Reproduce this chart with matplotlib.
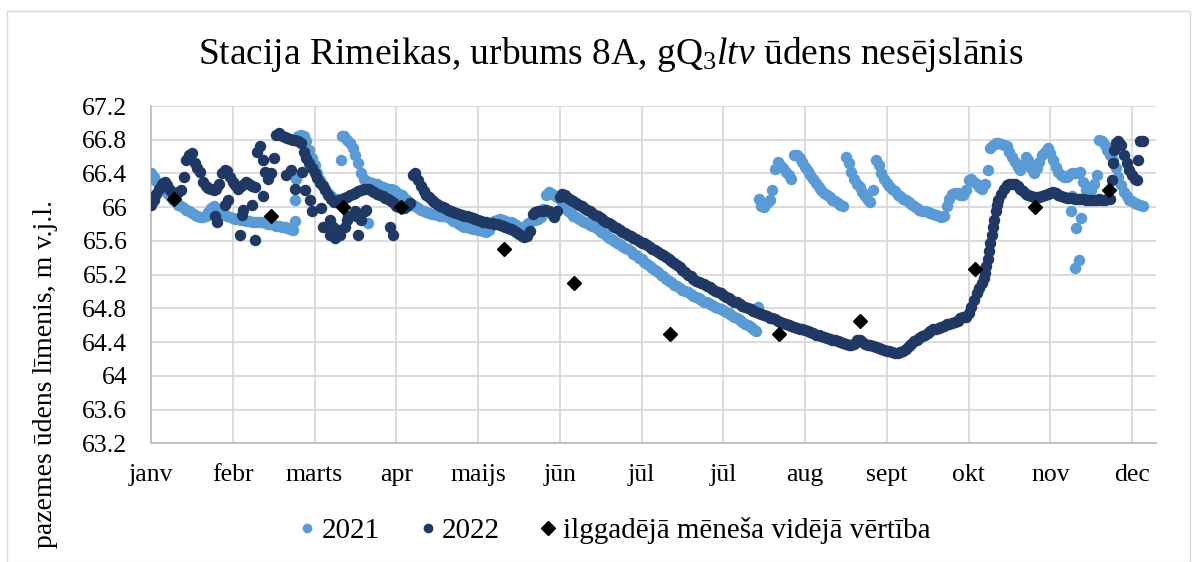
import numpy as np
import matplotlib
matplotlib.use("Agg")
import matplotlib.pyplot as plt
from matplotlib.lines import Line2D
from matplotlib.patches import Rectangle

plt.rcParams['font.family'] = ['Liberation Serif', 'DejaVu Serif']
plt.rcParams['mathtext.fontset'] = 'custom'
plt.rcParams['mathtext.rm'] = 'Liberation Serif'
plt.rcParams['mathtext.it'] = 'Liberation Serif:italic'

# ---- data: day index from the start of the year, groundwater level (m a.s.l.) ----
month_ticks = [0, 30, 60, 90, 120, 150, 180, 210, 240, 270, 300, 330, 360]
month_labels = ["janv", "febr", "marts", "apr", "maijs", "jūn", "jūl", "jūl",
                "aug", "sept", "okt", "nov", "dec"]

days_2021 = list(range(0, 365))
level_2021 = [
    66.40, 66.36, 66.31, 66.27, 66.23, 66.20, 66.17, 66.13, 66.09, 66.06,
    66.03, 66.01, 65.99, 65.97, 65.95, 65.93, 65.91, 65.89, 65.88, 65.88,
    65.89, 65.94, 65.99, 66.02, 65.98, 65.95, 65.93, 65.91, 65.89, 65.88,
    65.87, 65.86, 65.86, 65.85, 65.85, 65.84, 65.84, 65.83, 65.83, 65.83,
    65.82, 65.82, 65.81, 65.80, 65.80, 65.79, 65.78, 65.78, 65.77, 65.76,
    65.75, 65.74, 65.73, 65.84, 66.84, 66.86, 66.84, 66.78, 66.68, 66.58,
    66.50, 66.40, 66.32, 66.26, 66.22, 66.17, 66.13, 66.10, 66.08, 66.10,
    66.84, 66.84, 66.80, 66.76, 66.70, 66.62, 66.52, 66.40, 66.34, 66.31,
    66.30, 66.29, 66.28, 66.27, 66.25, 66.24, 66.23, 66.22, 66.21, 66.20,
    66.18, 66.16, 66.14, 66.11, 66.08, 66.05, 66.03, 66.01, 65.99, 65.97,
    65.95, 65.94, 65.93, 65.92, 65.92, 65.91, 65.90, 65.90, 65.89, 65.88,
    65.86, 65.84, 65.82, 65.80, 65.78, 65.77, 65.76, 65.75, 65.74, 65.74,
    65.73, 65.73, 65.72, 65.71, 65.73, 65.79, 65.84, 65.85, 65.86, 65.85,
    65.84, 65.83, 65.83, 65.81, 65.79, 65.77, 65.75, 65.77, 65.80, 65.83,
    65.85, 65.85, 65.86, 65.88, 65.98, 66.14, 66.18, 66.16, 66.14, 66.12,
    66.10, 66.06, 66.01, 65.96, 65.93, 65.90, 65.88, 65.86, 65.84, 65.83,
    65.81, 65.79, 65.78, 65.76, 65.74, 65.71, 65.69, 65.67, 65.64, 65.62,
    65.60, 65.58, 65.56, 65.54, 65.52, 65.50, 65.48, 65.45, 65.43, 65.40,
    65.38, 65.35, 65.33, 65.30, 65.28, 65.25, 65.23, 65.20, 65.18, 65.15,
    65.13, 65.11, 65.08, 65.06, 65.04, 65.02, 65.01, 64.99, 64.97, 64.95,
    64.93, 64.92, 64.90, 64.88, 64.87, 64.85, 64.84, 64.82, 64.81, 64.79,
    64.78, 64.76, 64.74, 64.72, 64.70, 64.68, 64.66, 64.64, 64.62, 64.60,
    64.58, 64.56, 64.53,
    66.10, 66.02, 66.00, 66.05, 66.08, 66.20, 66.45,
    66.54, 66.50, 66.46, 66.42, 66.38, 66.34, 66.62, 66.62, 66.58, 66.54,
    66.48, 66.43, 66.38, 66.33, 66.29, 66.24, 66.20, 66.17, 66.14, 66.12,
    66.09, 66.07, 66.05, 66.03, 66.02, 66.60, 66.52, 66.42, 66.34, 66.28,
    66.24, 66.18, 66.13, 66.08, 66.06, 66.20, 66.56, 66.50, 66.40, 66.34,
    66.29, 66.25, 66.22, 66.19, 66.15, 66.13, 66.10, 66.08, 66.06, 66.04,
    66.01, 65.99, 65.97, 65.96, 65.95, 65.94, 65.93, 65.92, 65.91, 65.89,
    65.88, 65.90, 66.01, 66.10, 66.16, 66.17, 66.17, 66.15, 66.15, 66.20,
    66.32, 66.34, 66.30, 66.28, 66.24, 66.22, 66.28, 66.44, 66.70, 66.74,
    66.76, 66.76, 66.75, 66.74, 66.72, 66.66, 66.60, 66.54, 66.48, 66.44,
    66.50, 66.60, 66.56, 66.46, 66.40, 66.46, 66.54, 66.62, 66.66, 66.70,
    66.64, 66.56, 66.48, 66.42, 66.38, 66.36, 66.36, 66.38, 66.40, 66.40,
    66.41, 66.42, 66.30, 66.20, 66.15, 66.20, 66.28, 66.38, 66.80, 66.78,
    66.74, 66.68, 66.62, 66.56, 66.46, 66.36, 66.26, 66.18, 66.13, 66.09,
    66.07, 66.05, 66.04, 66.03, 66.02,
]
extra_days_2021 = [53.3, 52.7, 69.8, 79.6, 222.7, 337.5, 339.3, 341.1, 340.5, 338.9, 338.0]
extra_level_2021 = [66.34, 66.08, 66.56, 65.81, 64.82, 65.96, 65.75, 65.87, 65.37, 65.28, 66.13]

days_2022 = list(range(0, 363))
level_2022 = [
    66.03, 66.08, 66.16, 66.22, 66.27, 66.30, 66.26, 66.20, 66.14, 66.16,
    66.18, 66.20, 66.36, 66.56, 66.62, 66.64, 66.52, 66.46, 66.42, 66.30,
    66.25, 66.23, 66.21, 66.20, 66.22, 66.28, 66.40, 66.44, 66.43, 66.36,
    66.30, 66.26, 66.22, 66.25, 66.28, 66.30, 66.28, 66.25, 66.24, 66.66,
    66.72, 66.56, 66.42, 66.34, 66.40, 66.58, 66.86, 66.88, 66.84, 66.83,
    66.82, 66.81, 66.80, 66.80, 66.79, 66.76, 66.66, 66.58, 66.52, 66.46,
    66.41, 66.35, 66.29, 66.25, 66.20, 66.14, 66.10, 66.06, 66.07, 66.08,
    66.09, 66.11, 66.12, 66.14, 66.16, 66.17, 66.19, 66.20, 66.21, 66.22,
    66.21, 66.19, 66.18, 66.16, 66.15, 66.13, 66.11, 66.10, 66.07, 66.05,
    66.02, 66.00, 65.99, 65.99, 66.02, 66.05, 66.38, 66.40, 66.32, 66.25,
    66.19, 66.15, 66.12, 66.09, 66.06, 66.04, 66.02, 66.00, 65.99, 65.97,
    65.95, 65.94, 65.93, 65.92, 65.91, 65.90, 65.89, 65.88, 65.87, 65.86,
    65.85, 65.84, 65.83, 65.82, 65.81, 65.81, 65.80, 65.80, 65.79, 65.78,
    65.76, 65.75, 65.74, 65.73, 65.70, 65.68, 65.66, 65.65, 65.66, 65.72,
    65.92, 65.94, 65.95, 65.96, 65.96, 65.97, 65.95, 65.92, 65.88, 65.96,
    66.12, 66.16, 66.14, 66.11, 66.09, 66.07, 66.05, 66.03, 66.01, 65.99,
    65.97, 65.95, 65.93, 65.91, 65.89, 65.87, 65.85, 65.83, 65.81, 65.79,
    65.77, 65.75, 65.73, 65.71, 65.69, 65.67, 65.66, 65.64, 65.62, 65.60,
    65.58, 65.57, 65.55, 65.53, 65.51, 65.49, 65.47, 65.45, 65.43, 65.41,
    65.39, 65.36, 65.34, 65.32, 65.29, 65.26, 65.23, 65.20, 65.18, 65.15,
    65.13, 65.11, 65.10, 65.09, 65.07, 65.05, 65.03, 65.01, 65.00, 64.98,
    64.96, 64.94, 64.92, 64.90, 64.88, 64.87, 64.85, 64.83, 64.82, 64.80,
    64.79, 64.77, 64.76, 64.75, 64.73, 64.72, 64.71, 64.69, 64.68, 64.67,
    64.65, 64.64, 64.63, 64.61, 64.60, 64.59, 64.58, 64.57, 64.56, 64.55,
    64.54, 64.53, 64.52, 64.51, 64.49, 64.48, 64.47, 64.46, 64.45, 64.44,
    64.43, 64.42, 64.41, 64.40, 64.39, 64.38, 64.37, 64.36, 64.38, 64.43,
    64.42, 64.40, 64.38, 64.37, 64.36, 64.35, 64.34, 64.33, 64.32, 64.31,
    64.30, 64.29, 64.28, 64.27, 64.27, 64.28, 64.30, 64.32, 64.35, 64.38,
    64.41, 64.43, 64.45, 64.47, 64.49, 64.51, 64.53, 64.55, 64.56, 64.57,
    64.58, 64.59, 64.61, 64.62, 64.63, 64.64, 64.65, 64.68, 64.70, 64.70,
    64.74, 64.82, 64.90, 64.98, 65.04, 65.10, 65.22, 65.38, 65.57, 65.76,
    65.95, 66.09, 66.16, 66.22, 66.26, 66.28, 66.28, 66.27, 66.25, 66.22,
    66.19, 66.16, 66.14, 66.13, 66.12, 66.12, 66.12, 66.13, 66.14, 66.16,
    66.17, 66.18, 66.17, 66.15, 66.13, 66.12, 66.11, 66.11, 66.11, 66.10,
    66.10, 66.10, 66.10, 66.09, 66.09, 66.09, 66.09, 66.09, 66.10, 66.09,
    66.09, 66.10, 66.10, 66.52, 66.76, 66.78, 66.74, 66.62, 66.52, 66.44,
    66.38, 66.34, 66.32,
]
extra_days_2022 = [23.5, 24.1, 27.0, 28.3, 32.7, 33.3, 33.8, 37.0, 38.0, 41.2,
                   49.7, 51.5, 52.8, 55.3, 56.5, 58.2, 59.0, 62.5, 63.1, 65.6,
                   65.6, 66.9, 67.4, 68.6, 69.2, 71.1, 71.8, 72.3, 74.8, 75.3,
                   76.0, 77.2, 78.4, 79.0, 87.6, 88.8, 305.5, 306.5, 307.5, 308.5,
                   309.5, 310.5, 352.5, 353.5, 362.3, 363.0, 364.0]
extra_level_2022 = [65.89, 65.83, 66.03, 66.09, 65.67, 65.91, 65.97, 66.03, 65.61, 66.13,
                    66.38, 66.44, 66.22, 66.42, 66.20, 66.09, 65.95, 65.99, 65.77, 65.85,
                    65.67, 65.77, 65.63, 65.73, 65.67, 65.77, 65.85, 65.89, 65.95, 65.89,
                    65.67, 65.85, 65.95, 65.97, 65.77, 65.67, 65.16, 65.30, 65.48, 65.67,
                    65.85, 66.03, 66.32, 66.68, 66.56, 66.78, 66.78]

mean_days = [8.3, 44.2, 70.3, 91.9, 129.4, 155.4, 190.5, 230.4, 260.3, 302.2, 324.5, 351.5]
mean_level = [66.10, 65.90, 66.00, 66.00, 65.50, 65.10, 64.50, 64.50, 64.65, 65.27, 66.00, 66.20]

series_labels = ["2021", "2022", "ilggadējā mēneša vidējā vērtība"]
c2021 = "#5b9bd5"
c2022 = "#203864"

# ---- figure ----
W, H = 1200, 562
fig = plt.figure(figsize=(W / 100, H / 100), dpi=100)
fig.patches.append(Rectangle((7 / W, 0), (1190 - 7) / W, 1 - 11 / H,
                             transform=fig.transFigure, fill=False,
                             edgecolor="#d9d9d9", linewidth=1.0))

ax = fig.add_axes([151 / W, 1 - 443.3 / H, (1156 - 151) / W, (443.3 - 106) / H])

msize = 68
ax.scatter(days_2021, level_2021, s=msize, color=c2021, linewidths=0, zorder=3)
ax.scatter(extra_days_2021, extra_level_2021, s=msize, color=c2021, linewidths=0, zorder=3)
ax.scatter(days_2022, level_2022, s=msize, color=c2022, linewidths=0, zorder=4)
ax.scatter(extra_days_2022, extra_level_2022, s=msize, color=c2022, linewidths=0, zorder=4)
ax.plot(mean_days, mean_level, linestyle="none", marker="D", markersize=7.5,
        color="black", zorder=5)

ax.set_xlim(0, 368.8)
ax.set_ylim(63.2, 67.2)
ax.set_yticks(np.arange(63.2, 67.21, 0.4))
ax.set_yticklabels(["63.2", "63.6", "64", "64.4", "64.8", "65.2", "65.6",
                    "66", "66.4", "66.8", "67.2"])
ax.set_xticks(month_ticks)
ax.set_xticklabels(month_labels)
ax.tick_params(axis="both", length=0, labelsize=18.5, colors="black")
ax.tick_params(axis="x", pad=15)
ax.tick_params(axis="y", pad=17)
ax.grid(True, color="#d9d9d9", linewidth=1.3, zorder=0)
ax.set_axisbelow(True)
for side in ["top", "right"]:
    ax.spines[side].set_visible(False)
for side in ["left", "bottom"]:
    ax.spines[side].set_color("#bfbfbf")
    ax.spines[side].set_linewidth(1.3)

fig.text(611 / W, 1 - 55 / H,
         r"Stacija Rimeikas, urbums 8A, gQ$_{\mathit{3}}$$\mathit{ltv}$ ūdens nesējslānis",
         ha="center", va="center", fontsize=27)
fig.text(46 / W, 1 - 374 / H, "pazemes ūdens līmenis, m v.j.l.",
         rotation=90, ha="center", va="center", fontsize=20)

handles = [
    Line2D([], [], linestyle="none", marker="o", markersize=6, color=c2021),
    Line2D([], [], linestyle="none", marker="o", markersize=6, color=c2022),
    Line2D([], [], linestyle="none", marker="D", markersize=7, color="black"),
]
fig.legend(handles, series_labels, loc="center", bbox_to_anchor=(612 / W, 1 - 531 / H),
           ncol=3, frameon=False, fontsize=21, handletextpad=0.05,
           columnspacing=1.2, handlelength=0.9)

fig.savefig("out.png", dpi=100)
